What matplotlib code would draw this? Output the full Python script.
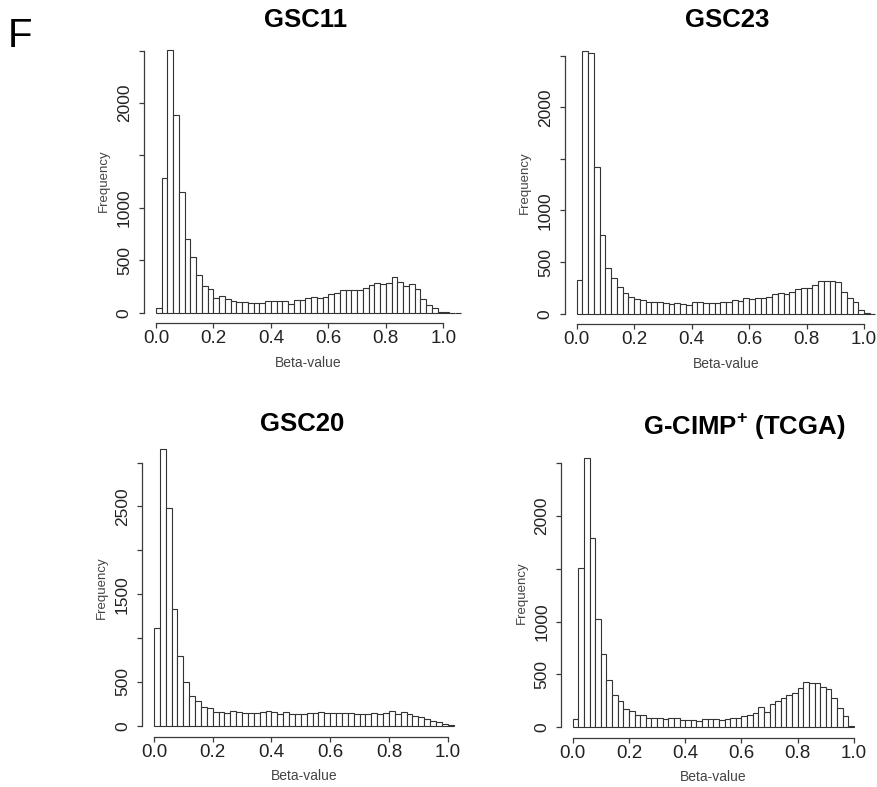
import numpy as np
import matplotlib
matplotlib.use("Agg")
import matplotlib.pyplot as plt

plt.rcParams['font.family'] = ['Liberation Sans', 'DejaVu Sans']
plt.rcParams['mathtext.fontset'] = 'custom'
plt.rcParams['mathtext.rm'] = 'Liberation Sans'
plt.rcParams['mathtext.bf'] = 'Liberation Sans:bold'

BIN_WIDTH = 0.02

TITLES = ["GSC11", "GSC23", "GSC20", r"G-CIMP$^{\mathbf{+}}$ (TCGA)"]

# counts per 0.02-wide bin of beta-value, starting at 0.0
GSC11 = [48, 1280, 2510, 1890, 1147, 704, 536, 356, 253, 225,
         140, 155, 129, 110, 100, 100, 97, 94, 92, 111,
         113, 116, 112, 87, 124, 122, 141, 146, 138, 147,
         176, 188, 213, 219, 219, 220, 236, 264, 286, 277,
         286, 340, 290, 255, 272, 224, 127, 74, 48, 10,
         4, 1, 1]
GSC23 = [326, 2545, 2529, 1419, 761, 439, 345, 261, 197, 158,
         139, 129, 110, 110, 110, 106, 94, 103, 97, 84,
         113, 110, 103, 103, 100, 116, 116, 129, 123, 148,
         145, 155, 155, 158, 187, 197, 187, 213, 235, 248,
         252, 274, 319, 319, 316, 306, 213, 148, 110, 35,
         10, 0]
GSC20 = [1118, 3152, 2487, 1327, 791, 496, 344, 276, 218, 207,
         160, 152, 144, 163, 156, 144, 144, 148, 156, 163,
         152, 137, 152, 133, 133, 133, 148, 148, 152, 144,
         141, 144, 141, 141, 133, 133, 137, 148, 137, 145,
         163, 137, 160, 129, 110, 95, 72, 53, 38, 20,
         6]
GCIMP = [75, 1506, 2544, 1790, 1022, 692, 447, 305, 248, 173,
         157, 120, 120, 85, 85, 91, 82, 91, 85, 69,
         66, 66, 60, 75, 75, 75, 69, 82, 85, 85,
         110, 120, 132, 192, 148, 220, 252, 277, 305, 327,
         374, 425, 418, 415, 377, 359, 274, 182, 107, 9]

SERIES = [GSC11, GSC23, GSC20, GCIMP]

X_TICKS = [0.0, 0.2, 0.4, 0.6, 0.8, 1.0]
Y_TICKS = [
    [0, 500, 1000, 1500, 2000, 2500],
    [0, 500, 1000, 1500, 2000, 2500],
    [0, 500, 1000, 1500, 2000, 2500, 3000],
    [0, 500, 1000, 1500, 2000, 2500],
]
Y_LABELED = [
    [0, 500, 1000, 2000],
    [0, 500, 1000, 2000],
    [0, 500, 1500, 2500],
    [0, 500, 1000, 2000],
]

FIG_W, FIG_H = 878, 787
# pixel anchors: x of beta 0.0, x of beta 1.0, y of count 0, pixels per count
ANCHORS = [
    (156.0, 443.3, 312.7, 0.10485),
    (576.7, 864.0, 313.7, 0.1032),
    (154.0, 447.7, 725.7, 0.0877),
    (572.7, 854.0, 727.3, 0.1058),
]
TITLE_POS = [(306, 26.7), (727.5, 27.0), (302, 431.0), (744, 434.0)]

AX_COL = '#3a3a3a'
BAR_EDGE = '#333333'

fig = plt.figure(figsize=(FIG_W / 100, FIG_H / 100), dpi=100)

for i, counts in enumerate(SERIES):
    counts = np.array(counts, dtype=float)
    edges = np.arange(len(counts) + 1) * BIN_WIDTH
    bmax = edges[-1]
    cmax = counts.max()
    xlim = (-0.04 * bmax, 1.04 * bmax)
    ylim = (-0.04 * cmax, 1.04 * cmax)

    x0, x1, yb, ppc = ANCHORS[i]
    left = x0 + xlim[0] * (x1 - x0)
    right = x0 + xlim[1] * (x1 - x0)
    bottom = yb - ylim[0] * ppc
    top = yb - ylim[1] * ppc
    ax = fig.add_axes([left / FIG_W, 1 - bottom / FIG_H,
                       (right - left) / FIG_W, (bottom - top) / FIG_H])

    ax.bar(edges[:-1], counts, width=BIN_WIDTH, align='edge',
           facecolor='white', edgecolor=BAR_EDGE, linewidth=0.8)
    ax.set_xlim(*xlim)
    ax.set_ylim(*ylim)

    for s in ['top', 'right']:
        ax.spines[s].set_visible(False)
    ax.spines['left'].set_bounds(0, Y_TICKS[i][-1])
    ax.spines['bottom'].set_bounds(0, 1.0)
    for s in ['left', 'bottom']:
        ax.spines[s].set_color(AX_COL)
        ax.spines[s].set_linewidth(0.9)

    ax.set_xticks(X_TICKS)
    ax.set_xticklabels(['%.1f' % t for t in X_TICKS])
    ax.set_yticks(Y_TICKS[i])
    ax.set_yticklabels([str(t) if t in Y_LABELED[i] else '' for t in Y_TICKS[i]],
                       rotation=90, va='center')
    ax.tick_params(axis='x', length=3.6, width=0.9, color=AX_COL,
                   labelsize=13.5, pad=1.5, labelcolor='#222222')
    ax.tick_params(axis='y', length=3.6, width=0.9, color=AX_COL,
                   labelsize=12.5, pad=5, labelcolor='#222222')

    ax.set_xlabel('Beta-value', fontsize=10, color='#444444', labelpad=6)
    ax.set_ylabel('Frequency', fontsize=9.5, color='#444444', labelpad=5)

    tx, ty = TITLE_POS[i]
    fig.text(tx / FIG_W, 1 - ty / FIG_H, TITLES[i], ha='center', va='baseline',
             fontsize=18.5, fontweight='bold')

fig.text(8 / FIG_W, 1 - 47 / FIG_H, 'F', ha='left', va='baseline', fontsize=29)

fig.savefig('out.png', dpi=100)
